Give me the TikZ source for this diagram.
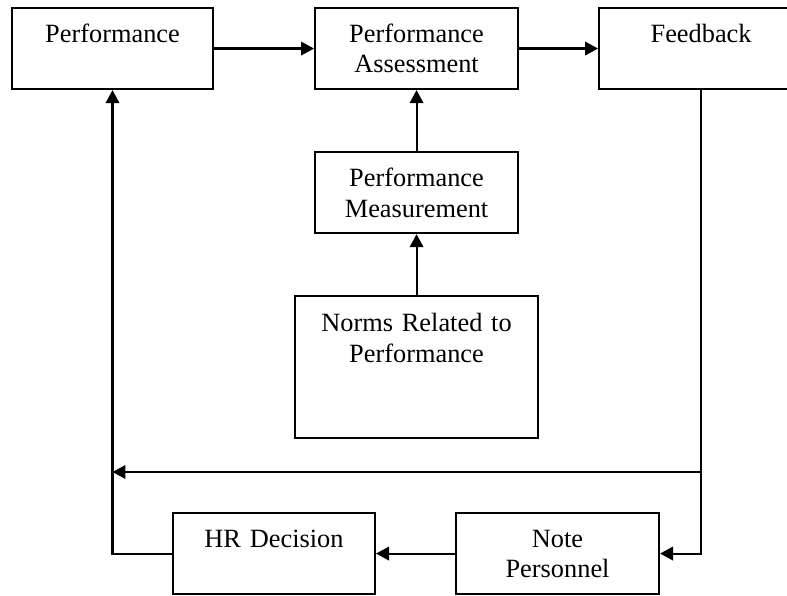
\documentclass[tikz,border=0pt]{standalone}
\usepackage{fontspec}
\setmainfont{Liberation Serif}
\usepackage{tikz}
\usetikzlibrary{positioning, arrows.meta}

\begin{document}
\begin{tikzpicture}[
      x=0.02cm, y=-0.02cm,
      box/.style={draw, line width=1.2pt, text width=4.06cm, align=center,
                  inner xsep=0pt, inner ysep=0pt, text height=0.68cm,
                  text depth=0.94cm, font=\fontsize{15}{17.6}\selectfont},
      arr/.style={-{Triangle[length=0.26cm, width=0.27cm]}, line width=1.2pt},
    ]
    \useasboundingbox (0,0) rectangle (787,595);
    \clip (0,0) rectangle (787,595);
    % top row
    \node[box, text width=4.02cm, anchor=north] (perf) at (112.5,7) {Performance};
    \node[box, right=2cm of perf] (assess) {Performance\\Assessment};
    \node[box, text width=4.08cm, right=1.58cm of assess] (feedback) {Feedback};
    % middle column
    \node[box, below=1.22cm of assess] (measure) {Performance\\Measurement};
    \node[box, text width=4.86cm, text height=0.70cm, text depth=2.14cm,
          below=1.22cm of measure] (norms) {Norms Related to\\Performance};
    % bottom row
    \node[box, text width=4.04cm, anchor=north] (hr) at (274,512) {HR Decision};
    \node[box, right=1.58cm of hr] (note) {Note\\Personnel};
    % arrows
    \draw[arr] (perf) -- (assess);
    \draw[arr] (assess) -- (feedback);
    \draw[arr] (measure) -- (assess);
    \draw[arr] (norms) -- (measure);
    \draw[arr] (feedback.south) |- (note.east);
    \draw[arr] (note) -- (hr);
    % feedback loop
    \coordinate (split) at (feedback.south |- 0,472);
    \coordinate (join) at (perf.south |- split);
    \draw[arr] (split) -- (join);
    \draw[arr] (hr.west) -| (perf.south);
  \end{tikzpicture}
\end{document}
